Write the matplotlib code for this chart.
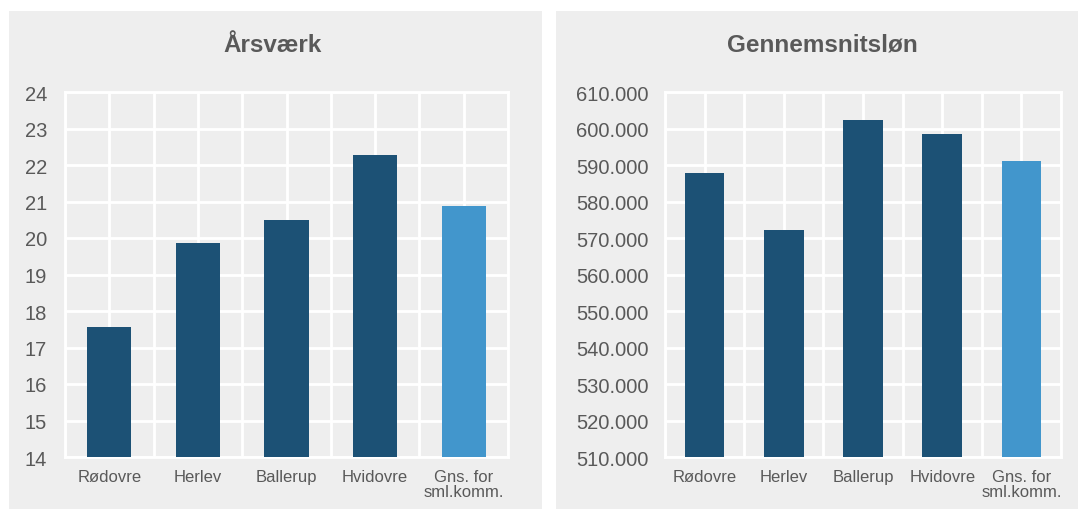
import matplotlib.pyplot as plt
import numpy as np
from matplotlib.patches import Rectangle
from matplotlib.ticker import FuncFormatter

plt.rcParams['font.family'] = ['Liberation Sans', 'DejaVu Sans']

categories = ['Rødovre', 'Herlev', 'Ballerup', 'Hvidovre', 'Gns. for\nsml.komm.']
aarsvaerk = [17.57, 19.85, 20.48, 22.27, 20.87]
loen = [587900, 572100, 602300, 598400, 591000]
barColors = ['#1c5175', '#1c5175', '#1c5175', '#1c5175', '#4296cc']

panelColor = '#eeeeee'
textColor = '#595959'
W, H = 1078, 510

fig = plt.figure(figsize=(W / 100, H / 100), dpi=100)
fig.patch.set_facecolor('white')
# gray panel behind each chart
fig.patches.append(Rectangle((9 / W, 0), (542 - 9) / W, 1 - 12 / H, transform=fig.transFigure,
                             facecolor=panelColor, edgecolor='none', zorder=-5))
fig.patches.append(Rectangle((556 / W, 0), (W - 556) / W, 1 - 12 / H, transform=fig.transFigure,
                             facecolor=panelColor, edgecolor='none', zorder=-5))

axL = fig.add_axes([65 / W, 1 - 458 / H, (508 - 65) / W, (458 - 93) / H])
axR = fig.add_axes([665 / W, 1 - 458 / H, (1061 - 665) / W, (458 - 93) / H])


def style(ax, values, ylim, yticks, pad):
    x = np.arange(len(categories))
    ax.set_facecolor(panelColor)
    ax.bar(x, values, width=0.5, color=barColors, zorder=3)
    ax.set_xlim(-0.5, len(categories) - 0.5)
    ax.set_ylim(*ylim)
    ax.set_yticks(yticks)
    ax.set_xticks(x)
    ax.set_xticklabels(categories, fontsize=12, color=textColor, linespacing=1.0)
    ax.set_xticks(np.arange(-0.5, len(categories), 1.0), minor=True)
    ax.grid(which='both', axis='x', color='white', linewidth=2, zorder=1)
    ax.grid(which='major', axis='y', color='white', linewidth=2, zorder=1)
    ax.tick_params(which='both', length=0)
    ax.tick_params(axis='x', pad=9)
    ax.tick_params(axis='y', pad=pad, labelsize=14.5, labelcolor=textColor)
    for s in ax.spines.values():
        s.set_color('white')
        s.set_linewidth(2)
    ax.set_axisbelow(True)


style(axL, aarsvaerk, (14, 24), np.arange(14, 25, 1), 13)
style(axR, loen, (510000, 610000), np.arange(510000, 610001, 10000), 12)
axR.yaxis.set_major_formatter(FuncFormatter(lambda v, p: f'{int(v):,}'.replace(',', '.')))

fig.text(273 / W, 1 - 45 / H, 'Årsværk', ha='center', va='center',
         fontsize=17.5, fontweight='bold', color=textColor)
fig.text(822 / W, 1 - 45 / H, 'Gennemsnitsløn', ha='center', va='center',
         fontsize=17.5, fontweight='bold', color=textColor)

plt.savefig('out.png', dpi=100)
